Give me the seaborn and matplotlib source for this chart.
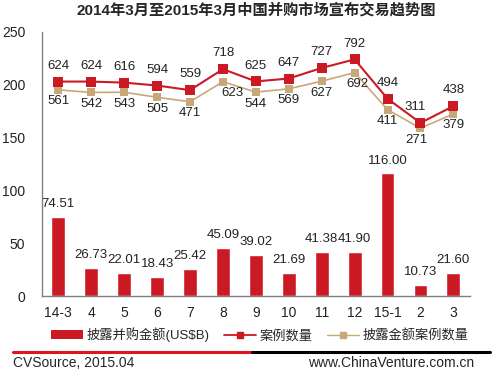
import numpy as np
import pandas as pd
import matplotlib
matplotlib.use("Agg")
import matplotlib.pyplot as plt
import seaborn as sns
from matplotlib.lines import Line2D
from matplotlib.patches import Patch

# ===================== DATA =====================
months = ["14-3", "4", "5", "6", "7", "8", "9", "10", "11", "12", "15-1", "2", "3"]
amount = [74.51, 26.73, 22.01, 18.43, 25.42, 45.09, 39.02, 21.69, 41.38, 41.90, 116.00, 10.73, 21.60]
cases = [624, 624, 616, 594, 559, 718, 625, 647, 727, 792, 494, 311, 438]
disclosed_cases = [561, 542, 543, 505, 471, 623, 544, 569, 627, 692, 411, 271, 379]

RED = "#CC1A24"
TAN = "#C9A877"

df = pd.DataFrame({"month": months, "amount": amount,
                   "cases": cases, "disclosed": disclosed_cases})
df["pos"] = np.arange(len(df))

# ===================== STYLE =====================
sns.set_style("white")
plt.rcParams["font.family"] = ["Liberation Sans", "Noto Sans CJK SC", "DejaVu Sans"]

fig = plt.figure(figsize=(4.93, 3.71), dpi=100)
ax = fig.add_axes([0.085, 0.202, 0.868, 0.712])

# ===================== BARS =====================
sns.barplot(data=df, x="month", y="amount", color=RED, width=0.42,
            saturation=1, ax=ax)
for i, v in enumerate(amount):
    ax.annotate(f"{v:.2f}", (i, v), xytext=(0, 5), textcoords="offset points",
                ha="center", va="bottom", fontsize=9.5, color="#222222")

ax.set_ylim(0, 250)
ax.set_xlim(-0.5, 12.5)
ax.set_yticks([0, 50, 100, 150, 200, 250])
ax.set_xlabel("")
ax.set_ylabel("")
ax.tick_params(axis="y", length=0, pad=12, labelsize=10, colors="#222222")
ax.tick_params(axis="x", length=0, pad=7, labelsize=10, colors="#222222")
for s in ["top", "right"]:
    ax.spines[s].set_visible(False)
for s in ["left", "bottom"]:
    ax.spines[s].set_color("#808080")
    ax.spines[s].set_linewidth(1)

# ===================== LINES (hidden secondary axis) =====================
ax2 = ax.twinx()
sns.lineplot(data=df, x="pos", y="disclosed", color=TAN, marker="s",
             markersize=6, markeredgewidth=0, linewidth=1.2, ax=ax2)
sns.lineplot(data=df, x="pos", y="cases", color=RED, marker="s",
             markersize=7, markeredgewidth=0, linewidth=1.5, ax=ax2)
ax2.set_ylim(-1000, 1000)
ax2.set_xlim(-0.5, 12.5)
ax2.axis("off")

for i, v in enumerate(cases):
    dx = -4 if i == 11 else 0
    ax2.annotate(str(v), (i, v), xytext=(dx, 7), textcoords="offset points",
                 ha="center", va="bottom", fontsize=9.5, color="#222222")
for i, v in enumerate(disclosed_cases):
    dx = 0
    if i == 5:
        dx = 7
    elif i == 9:
        dx = 2
    elif i == 11:
        dx = -3
    ax2.annotate(str(v), (i, v), xytext=(dx, -4), textcoords="offset points",
                 ha="center", va="top", fontsize=9.5, color="#222222")

# ===================== TITLE / LEGEND / FOOTER =====================
fig.text(0.52, 0.972, "2014年3月至2015年3月中国并购市场宣布交易趋势图",
         ha="center", va="center", fontsize=11, fontweight="bold",
         family=["Liberation Sans", "Noto Sans CJK SC"])

handles = [Patch(facecolor=RED, edgecolor="none"),
           Line2D([0], [0], color=RED, marker="s", markersize=5, lw=1.3),
           Line2D([0], [0], color=TAN, marker="s", markersize=5, lw=1.0)]
labels = ["披露并购金额(US$B)", "案例数量", "披露金额案例数量"]
fig.legend(handles, labels, loc="center", bbox_to_anchor=(0.527, 0.097),
           ncol=3, frameon=False, fontsize=9.5, handlelength=2.4,
           handleheight=0.7, columnspacing=1.1, handletextpad=0.3)

fig.add_artist(Line2D([0.026, 0.511], [0.051, 0.051], color="#E0141E", lw=2.2))
fig.add_artist(Line2D([0.511, 0.994], [0.051, 0.051], color="black", lw=2.2))
fig.text(0.026, 0.022, "CVSource, 2015.04", ha="left", va="center", fontsize=10)
fig.text(0.962, 0.022, "www.ChinaVenture.com.cn", ha="right", va="center", fontsize=10)

fig.savefig("out.png", dpi=100)
